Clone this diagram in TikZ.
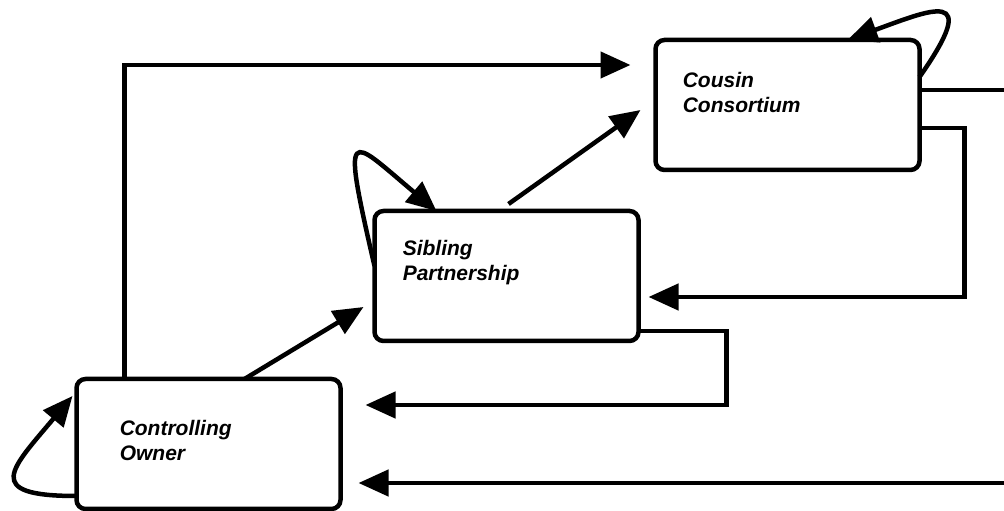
\documentclass[tikz,border=0pt]{standalone}
\usepackage{fontspec}
\setmainfont{Liberation Sans}
\usetikzlibrary{arrows.meta,positioning}

\begin{document}
\begin{tikzpicture}[x=1pt,y=1pt,line width=4.5pt,
		stage/.style={draw,rectangle,rounded corners=9pt,minimum width=264pt,minimum height=130pt,outer sep=0pt},
		stagetext/.style={align=left,inner sep=0pt,font=\fontsize{21}{25}\selectfont\bfseries\itshape},
		arr/.style={-{Triangle[length=30pt,width=26pt]}}]
					\useasboundingbox (0,0) rectangle (1004,511);
					\clip (0,0) rectangle (1004,511);
					\node[stage] (co) at (208.5,67) {};
					\node[stage] (sp) at (506.5,235) {};
					\node[stage] (cc) at (787.5,406) {};
					\node[stagetext,below right=39pt and 41pt of co.north west] (cotext) {Controlling\\Owner};
					\node[stagetext,below right=27pt and 26pt of sp.north west] (sptext) {Sibling\\Partnership};
					\node[stagetext,below right=30pt and 25pt of cc.north west] (cctext) {Cousin\\Consortium};
					\draw[arr,shorten >=25pt] ([xshift=48pt]co.north west) |- ([yshift=-25pt]cc.north west);
					\draw[arr] ([xshift=168pt]co.north west) -- ([xshift=-11pt,yshift=34pt]sp.south west);
					\draw[arr] ([xshift=134pt,yshift=7pt]sp.north west) -- ([xshift=-15pt,yshift=60pt]cc.south west);
					\draw[arr,shorten >=18pt] ([yshift=-50pt]cc.north east) -- ++(120,0) |- ([yshift=26pt]co.south east);
					\draw[arr,shorten >=10pt] ([yshift=42pt]cc.south east) -- ++(45,0) |- ([yshift=44pt]sp.south east);
					\draw[arr,shorten >=25pt] ([yshift=10pt]sp.south east) -- ++(88,0) |- ([yshift=-26pt]co.north east);
					\draw[arr] ([yshift=13pt]co.south west) .. controls +(180:95) and +(230:95) .. ([xshift=-4pt,yshift=-17pt]co.north west);
					\draw[arr] ([yshift=-55pt]sp.north west) .. controls +(103:150) and +(140:115) .. ([xshift=62pt]sp.north west);
					\draw[arr] ([yshift=-37pt]cc.north east) .. controls +(55:110) and +(20:90) .. ([xshift=-72pt]cc.north east);
				\end{tikzpicture}
\end{document}
